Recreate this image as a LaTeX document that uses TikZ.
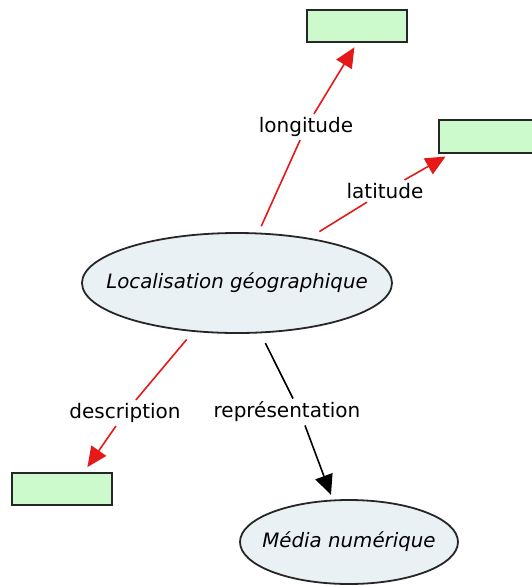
\documentclass[tikz,border=0pt]{standalone}
\usepackage{fontspec}
\setmainfont{DejaVu Sans}
\usetikzlibrary{shapes.geometric,arrows.meta}
\definecolor{boxgreen}{RGB}{204,250,204}
\definecolor{ellfill}{RGB}{234,241,245}
\definecolor{linkred}{RGB}{230,25,25}
\begin{document}
\begin{tikzpicture}[x=0.5pt,y=-0.5pt,
  concept/.style={ellipse,draw=black!85,line width=0.9pt,fill=ellfill,inner sep=0pt,font=\fontsize{9.9}{12}\selectfont\itshape},
  emptybox/.style={rectangle,draw=black!85,line width=1pt,fill=boxgreen,minimum width=50pt,minimum height=16pt,inner sep=0pt},
  linklabel/.style={inner sep=1.5pt,font=\fontsize{10}{12}\selectfont},
  redlink/.style={draw=linkred,line width=0.8pt},
  redarrow/.style={redlink,-{Triangle[length=10pt,width=9pt]},fill=linkred},
  blacklink/.style={draw=black,line width=0.8pt},
  blackarrow/.style={blacklink,-{Triangle[length=10pt,width=9pt]}}
]
\useasboundingbox (0,0) rectangle (532,586);
% concepts
\node[concept,minimum width=155pt,minimum height=50pt] (main) at (237,283) {\makebox[0pt]{Localisation géographique}};
\node[concept,minimum width=109pt,minimum height=42pt] (media) at (349,542) {\makebox[0pt]{Média numérique}};
% empty boxes
\node[emptybox] (top) at (357,26) {};
\node[emptybox,minimum height=16.5pt] (rbox) at (489,136.5) {};
\node[emptybox] (lbox) at (62,489) {};
% linking phrases
\node[linklabel] (lon) at (306,127) {longitude};
\node[linklabel] (lat) at (385,191) {latitude};
\node[linklabel] (desc) at (125,413) {description};
\node[linklabel] (rep) at (287,412) {représentation};
% connectors
\draw[redlink,shorten <=3.5pt] (main.67) -- (lon);
\draw[redarrow,shorten >=2.5pt] (lon) -- (top.south);
\draw[redlink,shorten <=6pt] (main.32) -- (lat);
\draw[redarrow,shorten >=2.5pt] (lat) -- ([xshift=6pt]rbox.south west);
\draw[redlink,shorten <=5pt] (main.-132) -- (desc);
\draw[redarrow,shorten >=3pt] (desc) -- ([xshift=11pt]lbox.north);
\draw[blacklink,shorten <=5.5pt] (main.-65) -- ([xshift=3pt]rep.north);
\draw[blackarrow,shorten >=2.5pt] ([xshift=9pt]rep.south) -- (media.111);
\end{tikzpicture}
\end{document}
